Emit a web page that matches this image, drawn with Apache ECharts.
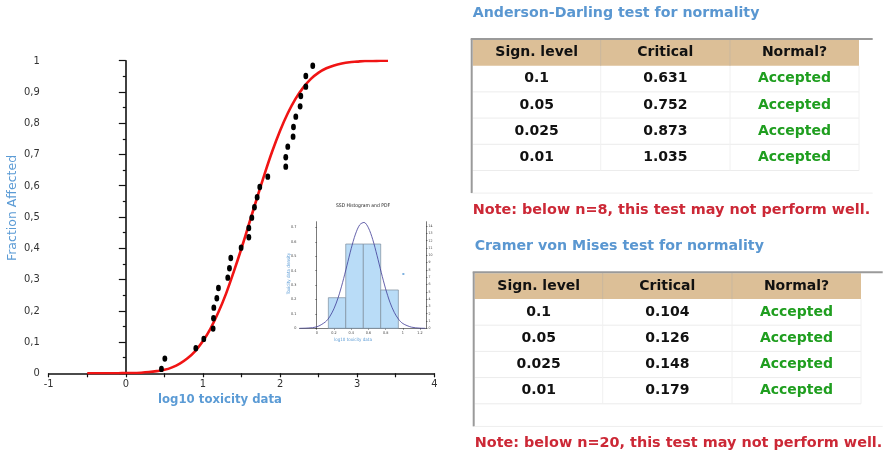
<!DOCTYPE html>
<html><head><meta charset="utf-8">
<script src="https://cdn.jsdelivr.net/npm/echarts@6/dist/echarts.min.js"></script>
<style>html,body{margin:0;padding:0;background:#fff}#c{width:884px;height:457px}</style>
</head><body><div id="c"></div>
<script>
// ---- main SSD scatter (log10 toxicity vs fraction affected)
const ssdX = [0.462,0.506,0.908,1.011,1.132,1.137,1.141,1.180,1.201,1.322,1.344,1.361,1.495,1.595,1.595,1.634,1.668,1.703,1.737,1.841,2.074,2.074,2.100,2.169,2.174,2.204,2.260,2.269,2.334,2.334,2.424];
const ssdY = [0.014,0.047,0.080,0.110,0.143,0.176,0.210,0.240,0.273,0.306,0.336,0.369,0.402,0.435,0.465,0.498,0.531,0.563,0.596,0.629,0.661,0.691,0.725,0.757,0.788,0.821,0.854,0.887,0.917,0.951,0.984];
// ---- fitted curve
const cdfX = [-0.5,-0.4,-0.3,-0.2,-0.1,0.0,0.1,0.2,0.3,0.4,0.5,0.6,0.7,0.8,0.9,1.0,1.1,1.2,1.3,1.4,1.5,1.6,1.7,1.8,1.9,2.0,2.1,2.2,2.3,2.4,2.5,2.6,2.7,2.8,2.9,3.0,3.1,3.2,3.3,3.4];
const cdfY = [0.000,0.000,0.000,0.000,0.000,0.001,0.001,0.002,0.004,0.007,0.011,0.019,0.031,0.048,0.071,0.103,0.144,0.195,0.255,0.325,0.400,0.480,0.560,0.638,0.711,0.776,0.832,0.878,0.914,0.942,0.962,0.976,0.985,0.991,0.995,0.997,0.999,0.999,1.000,1.000];
// ---- inset histogram + pdf
const binStart = [0.135,0.337,0.541,0.743];
const binEnd = [0.337,0.541,0.743,0.948];
const binDensity = [0.2125,0.585,0.585,0.266];
const pdfX = [-0.2,-0.1,0.0,0.1,0.15,0.2,0.25,0.3,0.35,0.4,0.45,0.5,0.55,0.6,0.65,0.7,0.75,0.8,0.85,0.9,0.95,1.0,1.1,1.2,1.26];
const pdfY = [0.000,0.002,0.010,0.044,0.080,0.136,0.215,0.317,0.434,0.553,0.654,0.719,0.735,0.698,0.617,0.506,0.386,0.274,0.181,0.111,0.063,0.033,0.008,0.001,0.000];
const insetMarkX = [1.006];
const insetMarkY = [0.377];
// ---- tables
const tableHeaders = ['Sign. level','Critical','Normal?'];
const signLevels = ['0.1','0.05','0.025','0.01'];
const adCritical = ['0.631','0.752','0.873','1.035'];
const adNormal = ['Accepted','Accepted','Accepted','Accepted'];
const cvmCritical = ['0.104','0.126','0.148','0.179'];
const cvmNormal = ['Accepted','Accepted','Accepted','Accepted'];
const adTitle = 'Anderson-Darling test for normality';
const cvmTitle = 'Cramer von Mises test for normality';
const adNote = 'Note: below n=8, this test may not perform well.';
const cvmNote = 'Note: below n=20, this test may not perform well.';

const BOLD = '"DejaVu Sans", Verdana, sans-serif';
const NARROW = '"Liberation Sans Narrow", "DejaVu Sans Condensed", sans-serif';

function txt(text, x, y, opt) {
  opt = opt || {};
  return {
    type: 'text', z: 100, rotation: opt.rotation || 0, x: x, y: y,
    style: {
      text: text, x: 0, y: 0,
      fontFamily: opt.family || BOLD, fontSize: opt.size || 14, fontWeight: opt.weight || 'bold',
      fill: opt.color || '#111',
      align: opt.align || 'left', verticalAlign: 'middle',
      textAlign: opt.align || 'left', textVerticalAlign: 'middle'
    }
  };
}

function tableGraphics(o) {
  const els = [];
  const colEdges = [0, 128, 257.3, 386.3];
  const headerH = 25.7, rowH = 26.2, extra = 22.6;
  const bodyTop = o.top + headerH;
  const bottom = bodyTop + rowH * 4 + extra;
  els.push(txt(o.title, o.left, o.titleY, {size: 14.2, color: '#5a97d1'}));
  for (let i = 1; i <= 4; i++) {
    const y = bodyTop + rowH * i;
    els.push({type: 'line', shape: {x1: o.left, y1: y, x2: o.left + colEdges[3], y2: y}, style: {stroke: '#ececec', lineWidth: 1}});
  }
  for (let c = 1; c <= 3; c++) {
    els.push({type: 'line', shape: {x1: o.left + colEdges[c], y1: bodyTop, x2: o.left + colEdges[c], y2: bodyTop + rowH * 4}, style: {stroke: '#f0f0f0', lineWidth: 1}});
  }
  els.push({type: 'rect', shape: {x: o.left, y: o.top, width: colEdges[3], height: headerH}, style: {fill: '#dcbf97'}});
  for (let c = 1; c <= 2; c++) {
    els.push({type: 'line', shape: {x1: o.left + colEdges[c], y1: o.top, x2: o.left + colEdges[c], y2: o.top + headerH}, style: {stroke: '#c9b79e', lineWidth: 1}});
  }
  els.push({type: 'line', shape: {x1: o.left - 2, y1: o.top - 1, x2: o.left + o.lineW, y2: o.top - 1}, style: {stroke: '#9a9a9a', lineWidth: 2}});
  els.push({type: 'line', shape: {x1: o.left - 1, y1: o.top - 1, x2: o.left - 1, y2: bottom}, style: {stroke: '#9a9a9a', lineWidth: 2}});
  els.push({type: 'line', shape: {x1: o.left, y1: bottom, x2: o.left + o.lineW, y2: bottom}, style: {stroke: '#eeeeee', lineWidth: 1}});
  for (let c = 0; c < 3; c++) {
    els.push(txt(tableHeaders[c], o.left + (colEdges[c] + colEdges[c + 1]) / 2, o.top + headerH / 2, {align: 'center'}));
  }
  for (let r = 0; r < 4; r++) {
    const cy = bodyTop + rowH * r + rowH / 2;
    els.push(txt(signLevels[r], o.left + (colEdges[0] + colEdges[1]) / 2, cy, {align: 'center'}));
    els.push(txt(o.crit[r], o.left + (colEdges[1] + colEdges[2]) / 2, cy, {align: 'center'}));
    els.push(txt(o.normal[r], o.left + (colEdges[2] + colEdges[3]) / 2, cy, {align: 'center', color: '#1f9e1f'}));
  }
  els.push(txt(o.note, o.left, o.noteY, {size: 14.4, color: '#cc2836'}));
  return els;
}

const graphics = [].concat(
  tableGraphics({title: adTitle, titleY: 13.5, left: 472.7, top: 40, lineW: 400, crit: adCritical, normal: adNormal, note: adNote, noteY: 210}),
  tableGraphics({title: cvmTitle, titleY: 246, left: 474.7, top: 273.3, lineW: 408, crit: cvmCritical, normal: cvmNormal, note: cvmNote, noteY: 443.3}),
  [
    txt('Fraction Affected', 12.7, 208, {rotation: Math.PI / 2, align: 'center', size: 12.5, weight: 'normal', color: '#5b9bd5'}),
    txt('log10 toxicity data', 220, 400, {family: NARROW, align: 'center', size: 13, weight: 'bold', color: '#5b9bd5'}),
    txt('SSD Histogram and PDF', 363, 205.7, {family: NARROW, align: 'center', size: 5, weight: 'normal', color: '#222'}),
    txt('log10 toxicity data', 353, 340, {family: NARROW, align: 'center', size: 4.5, weight: 'normal', color: '#5b9bd5'}),
    txt('Toxicity data density', 288.5, 273.5, {family: NARROW, rotation: Math.PI / 2, align: 'center', size: 4.5, weight: 'normal', color: '#5b9bd5'})
  ]
);

const zip = (a, b) => a.map((v, i) => [v, b[i]]);
const chart = echarts.init(document.getElementById('c'));
chart.setOption({
  backgroundColor: '#fff',
  animation: false,
  grid: [
    {left: 48.7, top: 60.7, width: 385.6, height: 312.6},
    {left: 299.5, top: 221.7, width: 126.6, height: 106.6}
  ],
  xAxis: [
    {gridIndex: 0, type: 'value', min: -1, max: 4, interval: 1,
     axisLine: {onZero: false, lineStyle: {color: '#111', width: 1.6}},
     axisTick: {length: 4, lineStyle: {color: '#111', width: 1.2}},
     minorTick: {show: true, splitNumber: 2, length: 4, lineStyle: {color: '#111', width: 1.2}},
     axisLabel: {margin: 5, fontFamily: NARROW, fontSize: 11, color: '#333'},
     splitLine: {show: false}},
    {gridIndex: 1, type: 'value', min: -0.2, max: 1.27, interval: 0.2,
     axisLine: {onZero: false, lineStyle: {color: '#222', width: 0.6}},
     axisTick: {length: 1.5, lineStyle: {color: '#222', width: 0.5}},
     axisLabel: {margin: 3, fontFamily: NARROW, fontSize: 3.8, color: '#444', showMinLabel: false, showMaxLabel: false},
     splitLine: {show: false}}
  ],
  yAxis: [
    {gridIndex: 0, type: 'value', min: 0, max: 1, interval: 0.1,
     axisLine: {show: true, lineStyle: {color: '#111', width: 1.6}},
     axisTick: {show: true, length: 7, lineStyle: {color: '#111', width: 1.2}},
     minorTick: {show: true, splitNumber: 2, length: 3, lineStyle: {color: '#111', width: 1.2}},
     axisLabel: {margin: 9, fontFamily: NARROW, fontSize: 11, color: '#333',
       formatter: v => (Math.round(v * 10) / 10).toString().replace('.', ',')},
     splitLine: {show: false}},
    {gridIndex: 1, type: 'value', min: 0, max: 0.74, interval: 0.1,
     axisLine: {show: true, lineStyle: {color: '#222', width: 0.6}},
     axisTick: {show: true, length: 1.5, lineStyle: {color: '#222', width: 0.5}},
     axisLabel: {margin: 3, fontFamily: NARROW, fontSize: 3.8, color: '#444', showMaxLabel: false},
     splitLine: {show: false}},
    {gridIndex: 1, type: 'value', position: 'right', min: 0, max: 14.6, interval: 1,
     axisLine: {show: true, lineStyle: {color: '#222', width: 0.6}},
     axisTick: {show: true, length: 1.5, lineStyle: {color: '#222', width: 0.5}},
     axisLabel: {margin: 2.5, fontFamily: NARROW, fontSize: 3.5, color: '#444', showMaxLabel: false},
     splitLine: {show: false}}
  ],
  series: [
    {type: 'line', xAxisIndex: 0, yAxisIndex: 0, data: zip(cdfX, cdfY), smooth: 0.3, showSymbol: false,
     lineStyle: {color: '#f01414', width: 2.6}, z: 3},
    {type: 'scatter', xAxisIndex: 0, yAxisIndex: 0, data: zip(ssdX, ssdY), symbol: 'circle', symbolSize: [4.8, 6.4],
     itemStyle: {color: '#000', opacity: 1}, z: 4},
    {type: 'custom', xAxisIndex: 1, yAxisIndex: 1,
     data: binStart.map((s, i) => [s, binEnd[i], binDensity[i]]),
     encode: {x: [0, 1], y: 2},
     renderItem: function (params, api) {
       const p0 = api.coord([api.value(0), 0]);
       const p1 = api.coord([api.value(1), api.value(2)]);
       return {type: 'rect', shape: {x: p0[0], y: p1[1], width: p1[0] - p0[0], height: p0[1] - p1[1]},
               style: {fill: '#b9dcf7', stroke: '#7d8c9c', lineWidth: 0.7}};
     }, z: 2},
    {type: 'line', xAxisIndex: 1, yAxisIndex: 1, data: zip(pdfX, pdfY), smooth: 0.3, showSymbol: false,
     lineStyle: {color: '#3d3a96', width: 0.8}, z: 5},
    {type: 'scatter', xAxisIndex: 1, yAxisIndex: 1, data: zip(insetMarkX, insetMarkY), symbol: 'rect', symbolSize: 2,
     itemStyle: {color: '#7fb2e0', opacity: 1}}
  ],
  graphic: {elements: graphics}
});
</script>
</body></html>
